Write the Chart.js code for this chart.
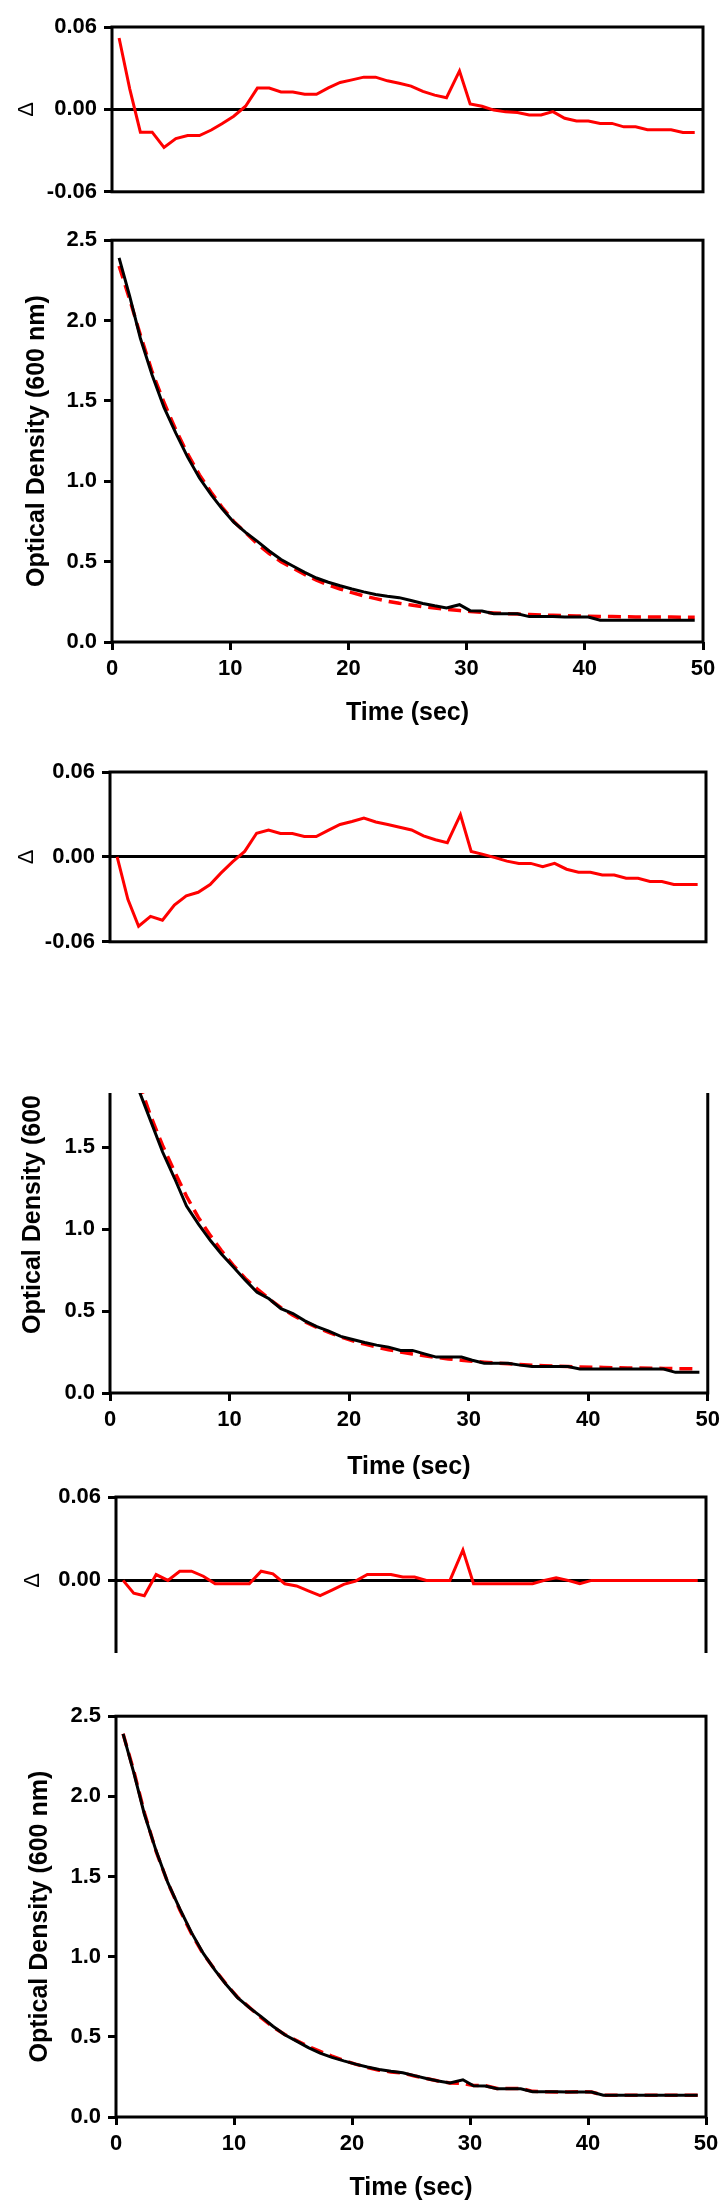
<!DOCTYPE html>
<html>
<head>
<meta charset="utf-8">
<script src="https://cdn.jsdelivr.net/npm/chart.js@4.4.0/dist/chart.umd.min.js"></script>
<style>
  html, body { margin: 0; padding: 0; background: #fff; }
  body { width: 726px; height: 2211px; position: relative; overflow: hidden; }
  .panel { position: absolute; left: 0; width: 726px; overflow: hidden; }
  .panel canvas { position: absolute; left: 0; }
</style>
</head>
<body>
<script>
// sampling times shared by every trace
const timeSec = [0.6, 1.5, 2.4, 3.4, 4.4, 5.4, 6.4, 7.4, 8.4, 9.3,
  10.3, 11.3, 12.3, 13.3, 14.3, 15.3, 16.3, 17.3, 18.3, 19.3,
  20.3, 21.3, 22.3, 23.3, 24.3, 25.3, 26.3, 27.3, 28.3, 29.4,
  30.3, 31.3, 32.3, 33.3, 34.3, 35.3, 36.3, 37.3, 38.3, 39.3,
  40.3, 41.3, 42.3, 43.3, 44.3, 45.3, 46.3, 47.3, 48.3, 49.3];

// measured optical density (black), panels 1 and 3
const measuredA = [2.39, 2.15, 1.89, 1.66, 1.46, 1.30, 1.15, 1.02, 0.915, 0.83,
  0.745, 0.682, 0.626, 0.566, 0.513, 0.473, 0.433, 0.398, 0.372, 0.350,
  0.330, 0.312, 0.296, 0.285, 0.276, 0.258, 0.240, 0.225, 0.212, 0.232,
  0.195, 0.193, 0.176, 0.176, 0.176, 0.158, 0.158, 0.158, 0.156, 0.156,
  0.156, 0.136, 0.135, 0.135, 0.135, 0.135, 0.135, 0.135, 0.135, 0.135];

// measured optical density (black), panel 2
const measuredB = [2.38, 2.12, 1.85, 1.66, 1.47, 1.31, 1.14, 1.03, 0.93, 0.85,
  0.77, 0.69, 0.615, 0.575, 0.515, 0.485, 0.44, 0.405, 0.378, 0.345,
  0.326, 0.308, 0.292, 0.28, 0.26, 0.26, 0.239, 0.219, 0.219, 0.219,
  0.20, 0.182, 0.182, 0.182, 0.17, 0.162, 0.162, 0.162, 0.162, 0.146,
  0.146, 0.146, 0.146, 0.146, 0.146, 0.146, 0.146, 0.126, 0.126, 0.126];

// fitted curves (red dashed)
const fit1 = [2.34, 2.13, 1.91, 1.68, 1.49, 1.32, 1.17, 1.04, 0.93, 0.84,
  0.75, 0.68, 0.61, 0.55, 0.50, 0.46, 0.42, 0.385, 0.355, 0.33,
  0.307, 0.287, 0.27, 0.254, 0.241, 0.23, 0.22, 0.211, 0.203, 0.196,
  0.19, 0.185, 0.181, 0.177, 0.174, 0.171, 0.168, 0.166, 0.164, 0.162,
  0.160, 0.159, 0.158, 0.157, 0.156, 0.156, 0.155, 0.155, 0.154, 0.154];

const fit2 = [2.37, 2.13, 1.90, 1.69, 1.51, 1.35, 1.20, 1.07, 0.96, 0.87,
  0.78, 0.70, 0.635, 0.575, 0.52, 0.475, 0.435, 0.40, 0.37, 0.342,
  0.318, 0.298, 0.28, 0.264, 0.25, 0.238, 0.227, 0.217, 0.208, 0.20,
  0.194, 0.188, 0.183, 0.178, 0.174, 0.170, 0.167, 0.164, 0.162, 0.159,
  0.157, 0.156, 0.154, 0.153, 0.152, 0.151, 0.150, 0.149, 0.148, 0.147];

const fit3 = [2.39, 2.16, 1.90, 1.656, 1.46, 1.293, 1.143, 1.017, 0.917, 0.832,
  0.747, 0.684, 0.619, 0.561, 0.515, 0.477, 0.44, 0.409, 0.379, 0.353,
  0.33, 0.308, 0.292, 0.281, 0.274, 0.256, 0.24, 0.225, 0.212, 0.21,
  0.197, 0.195, 0.178, 0.178, 0.178, 0.16, 0.158, 0.156, 0.156, 0.158,
  0.156, 0.136, 0.135, 0.135, 0.135, 0.135, 0.135, 0.135, 0.135, 0.135];

// residuals (data - fit)
const resid1 = [0.052, 0.015, -0.0166, -0.0166, -0.0277, -0.0212, -0.019, -0.019, -0.015, -0.0104,
  -0.005, 0.0023, 0.0155, 0.0155, 0.0127, 0.0127, 0.011, 0.011, 0.0157, 0.0196,
  0.0215, 0.0235, 0.0235, 0.0208, 0.019, 0.017, 0.0131, 0.0104, 0.0085, 0.028,
  0.004, 0.0023, -0.0005, -0.0018, -0.0023, -0.004, -0.004, -0.0016, -0.0065, -0.0085,
  -0.0085, -0.0102, -0.0102, -0.0127, -0.0127, -0.0148, -0.0148, -0.0148, -0.0168, -0.0168];

const resid2 = [0, -0.030, -0.049, -0.042, -0.0447, -0.034, -0.0275, -0.025, -0.0195, -0.0115,
  -0.0034, 0.0039, 0.0167, 0.019, 0.0165, 0.0165, 0.0144, 0.0144, 0.0188, 0.0229,
  0.025, 0.0275, 0.0247, 0.0229, 0.021, 0.019, 0.0149, 0.0121, 0.010, 0.0298,
  0.0039, 0.0018, -0.0005, -0.003, -0.0046, -0.0046, -0.0069, -0.0046, -0.0087, -0.0108,
  -0.0108, -0.0128, -0.0128, -0.0151, -0.0151, -0.0174, -0.0174, -0.0195, -0.0195, -0.0195];

const resid3 = [0, -0.0092, -0.011, 0.0042, 0, 0.0066, 0.0066, 0.003, -0.0024, -0.0024,
  -0.0024, -0.0024, 0.0066, 0.0047, -0.0024, -0.004, -0.0075, -0.011, -0.007, -0.0028,
  -0.0005, 0.0042, 0.0042, 0.0042, 0.0024, 0.0024, 0, 0, 0, 0.0219,
  -0.0024, -0.0024, -0.0024, -0.0024, -0.0024, -0.0024, 0, 0.0019, 0, -0.0024,
  0, 0, 0, 0, 0, 0, 0, 0, 0, 0];

const residTicks = [-0.06, 0, 0.06];
const odTicks = [0, 0.5, 1.0, 1.5, 2.0, 2.5];
const timeTicks = [0, 10, 20, 30, 40, 50];

const FAMILY = "'Liberation Sans', Arial, Helvetica, sans-serif";
const tickFont = { family: FAMILY, size: 22, weight: 'bold' };
const titleFont = { family: FAMILY, size: 25, weight: 'bold' };

// black frame round the plot area
const boxPlugin = {
  id: 'box',
  afterDatasetsDraw(chart) {
    const { ctx, chartArea: a } = chart;
    ctx.save();
    ctx.strokeStyle = '#000';
    ctx.lineWidth = 3;
    ctx.strokeRect(a.left, a.top, a.right - a.left, a.bottom - a.top);
    ctx.restore();
  }
};

function pts(ys) {
  return timeSec.map((t, i) => ({ x: t, y: ys[i] }));
}

function fixTicks(values) {
  return scale => { scale.ticks = values.map(v => ({ value: v })); };
}

function mount(canvasTop, canvasHeight, clipTop, clipBottom) {
  const div = document.createElement('div');
  div.className = 'panel';
  div.style.top = clipTop + 'px';
  div.style.height = (clipBottom - clipTop) + 'px';
  const cv = document.createElement('canvas');
  cv.width = 726;
  cv.height = canvasHeight;
  cv.style.width = '726px';
  cv.style.height = canvasHeight + 'px';
  cv.style.top = (canvasTop - clipTop) + 'px';
  div.appendChild(cv);
  document.body.appendChild(div);
  return cv;
}

function residualChart(values, b) {
  const h = b.plotBottom - b.canvasTop + 15;
  const cv = mount(b.canvasTop, h, b.clipTop ?? b.canvasTop, b.clipBottom ?? b.canvasTop + h);
  return new Chart(cv, {
    type: 'line',
    data: {
      datasets: [{
        data: pts(values),
        borderColor: '#ff0000',
        borderWidth: 3,
        pointRadius: 0,
        tension: 0
      }]
    },
    options: {
      responsive: false,
      animation: false,
      events: [],
      layout: { padding: { top: b.plotTop - b.canvasTop, right: 726 - b.right, bottom: 15, left: 0 } },
      plugins: { legend: { display: false }, tooltip: { enabled: false } },
      scales: {
        x: { type: 'linear', min: 0, max: 50, display: false },
        y: {
          min: -0.06,
          max: 0.06,
          afterBuildTicks: fixTicks(residTicks),
          afterFit: s => { s.width = b.left; },
          border: { display: false },
          grid: {
            color: c => (c.tick && c.tick.value === 0 ? '#000' : 'rgba(0,0,0,0)'),
            lineWidth: 3,
            tickColor: '#000',
            tickWidth: 3,
            tickLength: 8
          },
          ticks: { color: '#000', padding: 7, font: tickFont, callback: v => v.toFixed(2) },
          title: {
            display: true,
            text: 'Δ',
            color: '#000',
            font: { family: FAMILY, size: 22 },
            padding: { top: b.titleX - 13.2, bottom: 0 }
          }
        }
      }
    },
    plugins: [boxPlugin]
  });
}

function densityChart(measured, fit, b) {
  const h = b.plotBottom - b.canvasTop + b.xHeight;
  const cv = mount(b.canvasTop, h, b.clipTop ?? b.canvasTop, b.clipBottom ?? b.canvasTop + h);
  return new Chart(cv, {
    type: 'line',
    data: {
      datasets: [
        {
          data: pts(measured),
          borderColor: '#000',
          borderWidth: 3,
          pointRadius: 0,
          tension: 0,
          order: 0
        },
        {
          data: pts(fit),
          borderColor: '#ff0000',
          borderWidth: 3.5,
          borderDash: [13, 7],
          pointRadius: 0,
          tension: 0,
          order: 1
        }
      ]
    },
    options: {
      responsive: false,
      animation: false,
      events: [],
      layout: { padding: { top: b.plotTop - b.canvasTop, right: 726 - b.right, bottom: 0, left: 0 } },
      plugins: { legend: { display: false }, tooltip: { enabled: false } },
      scales: {
        x: {
          type: 'linear',
          min: 0,
          max: 50,
          afterBuildTicks: fixTicks(timeTicks),
          afterFit: s => { s.height = b.xHeight; },
          border: { display: false },
          grid: { drawOnChartArea: false, tickColor: '#000', tickWidth: 3, tickLength: 8 },
          ticks: { color: '#000', padding: 6, maxRotation: 0, font: tickFont },
          title: { display: true, text: 'Time (sec)', color: '#000', font: titleFont, padding: { top: 0, bottom: 0 } }
        },
        y: {
          min: 0,
          max: 2.5,
          afterBuildTicks: fixTicks(odTicks),
          afterFit: s => { s.width = b.left; },
          border: { display: false },
          grid: { drawOnChartArea: false, tickColor: '#000', tickWidth: 3, tickLength: 8 },
          ticks: { color: '#000', padding: 7, font: tickFont, callback: v => v.toFixed(1) },
          title: {
            display: true,
            text: 'Optical Density (600 nm)',
            color: '#000',
            font: titleFont,
            padding: { top: b.titleX - 15, bottom: 0 }
          }
        }
      }
    },
    plugins: [boxPlugin]
  });
}

residualChart(resid1, { canvasTop: 0, plotTop: 27, plotBottom: 197, left: 112, right: 703, titleX: 27 });
densityChart(measuredA, fit1, { canvasTop: 220, plotTop: 240, plotBottom: 642, xHeight: 86, left: 112, right: 703, titleX: 37 });

residualChart(resid2, { canvasTop: 750, plotTop: 772, plotBottom: 947, left: 110, right: 706, titleX: 27 });
densityChart(measuredB, fit2, { canvasTop: 963, plotTop: 983, plotBottom: 1393, xHeight: 89, left: 110, right: 710, titleX: 33, clipTop: 1093 });

residualChart(resid3, { canvasTop: 1475, plotTop: 1497, plotBottom: 1669, left: 116, right: 706, titleX: 33, clipBottom: 1653 });
densityChart(measuredA, fit3, { canvasTop: 1696, plotTop: 1716, plotBottom: 2117, xHeight: 86, left: 116, right: 706, titleX: 40 });
</script>
</body>
</html>
